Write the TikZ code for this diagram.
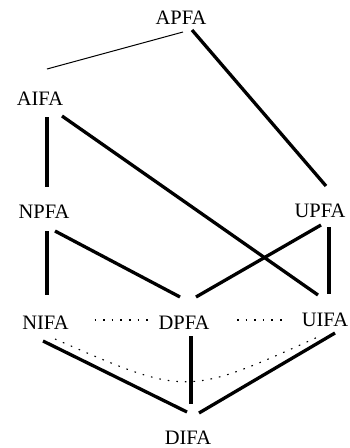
\documentclass[tikz,border=0pt]{standalone}
\usepackage{fontspec}
\setmainfont{Liberation Serif}
\usetikzlibrary{calc}
\begin{document}
\begin{tikzpicture}[x=1pt,y=-1pt,
  lbl/.style={inner sep=0pt,font=\fontsize{20.5}{24}\selectfont},
  heavy/.style={line width=3.3pt},
  light/.style={line width=1pt},
  dots/.style={line width=1.1pt,dash pattern=on 1.6pt off 7pt}]
\useasboundingbox (0,0) rectangle (349,448);
\node[lbl] (APFA) at (181,18) {APFA};
\node[lbl] (AIFA) at (40,99) {AIFA};
\node[lbl] (NPFA) at (44,211.5) {NPFA};
\node[lbl] (UPFA) at (320,211) {UPFA};
\node[lbl] (NIFA) at (45.5,322.5) {NIFA};
\node[lbl] (DPFA) at (184,323) {DPFA};
\node[lbl] (UIFA) at (325,319.5) {UIFA};
\node[lbl] (DIFA) at (188,438) {DIFA};
\draw[light] ($(APFA)+(2,14)$) -- ($(AIFA)+(7,-30)$);
\draw[heavy] ($(APFA)+(11,12)$) -- ($(UPFA)+(6,-25)$);
\draw[heavy] ($(AIFA)+(7,18)$) -- ($(NPFA)+(3,-24.5)$);
\draw[heavy] ($(AIFA)+(22,17)$) -- ($(UIFA)+(-7,-24.5)$);
\draw[heavy] ($(NPFA)+(3,19.5)$) -- ($(NIFA)+(1.5,-27.5)$);
\draw[heavy] ($(NPFA)+(11,19.5)$) -- ($(DPFA)+(-4,-26)$);
\draw[heavy] ($(UPFA)+(1,14)$) -- ($(DPFA)+(12,-26)$);
\draw[heavy] ($(UPFA)+(9,16)$) -- ($(UIFA)+(4,-25.5)$);
\draw[heavy] ($(NIFA)+(-2.5,18.5)$) -- ($(DIFA)+(-1,-26)$);
\draw[heavy] ($(DPFA)+(7,13)$) -- ($(DIFA)+(3,-34)$);
\draw[heavy] ($(UIFA)+(10,13.5)$) -- ($(DIFA)+(11,-25)$);
\draw[dots] ($(NIFA)+(49,-2.5)$) -- ($(DPFA)+(-34,-3)$);
\draw[dots] ($(DPFA)+(53,-3)$) -- ($(UIFA)+(-42,0.5)$);
\draw[dots] ($(NIFA)+(9.5,16.5)$) .. controls ($(DPFA)+(2.5,73.5)$) .. ($(UIFA)+(-5,16.5)$);
\end{tikzpicture}
\end{document}
